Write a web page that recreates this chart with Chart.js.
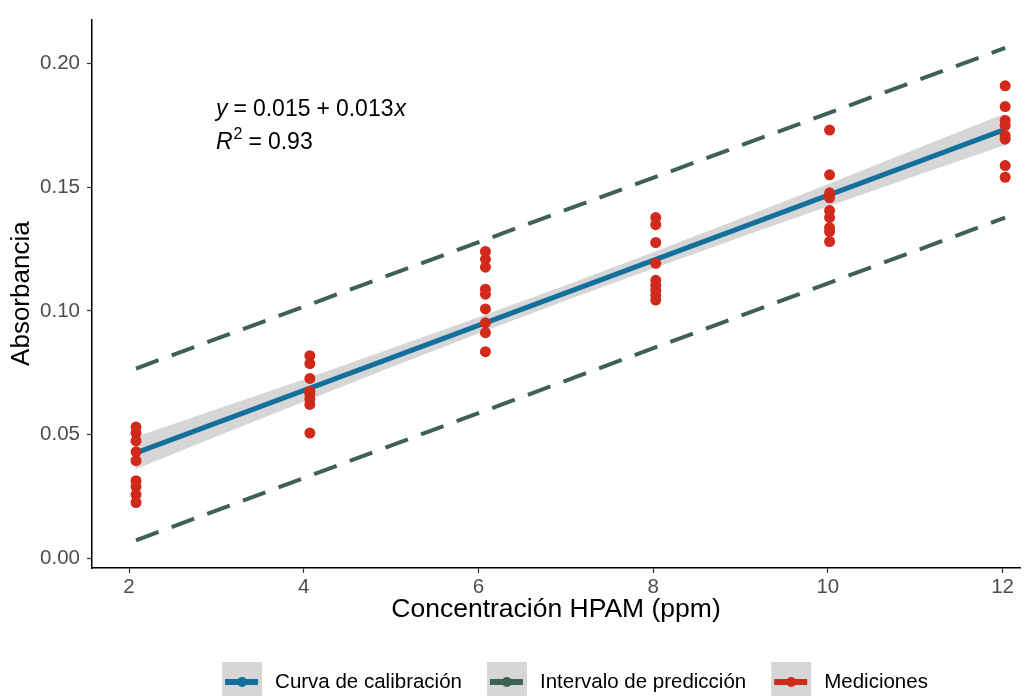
<!DOCTYPE html>
<html>
<head>
<meta charset="utf-8">
<script src="https://cdn.jsdelivr.net/npm/chart.js@4.4.1/dist/chart.umd.min.js"></script>
<style>
body { margin: 0; background: #fff; }
#wrap { width: 1034px; height: 696px; }
</style>
</head>
<body>
<div id="wrap"><canvas id="chart" width="1034" height="696"></canvas></div>
<script>
// ticks
const xTicks = [2, 4, 6, 8, 10, 12];
const yTicks = [0, 0.05, 0.10, 0.15, 0.20];

// mediciones (absorbancia) por concentración
const concX = [2.08, 4.07, 6.08, 8.03, 10.02, 12.03];
const med2 = [0.0530, 0.0506, 0.0474, 0.0430, 0.0394, 0.0313, 0.0289, 0.0257, 0.0225];
const med4 = [0.0819, 0.0787, 0.0727, 0.0675, 0.0663, 0.0643, 0.0622, 0.0506];
const med6 = [0.1241, 0.1209, 0.1177, 0.1088, 0.1068, 0.1008, 0.0952, 0.0912, 0.0835];
const med8 = [0.1378, 0.1349, 0.1277, 0.1193, 0.1124, 0.1104, 0.1084, 0.1064, 0.1044];
const med10 = [0.1732, 0.1551, 0.1478, 0.1458, 0.1406, 0.1378, 0.1337, 0.1321, 0.1281];
const med12 = [0.1911, 0.1827, 0.1771, 0.1750, 0.1709, 0.1695, 0.1588, 0.1541];

// curva de calibración y banda de confianza
const fitX = [2.08, 12.03];
const fitY = [0.0426, 0.1735];
const bandX = [2.08, 3, 4, 5, 6, 7, 8, 9, 10, 11, 12.03];
const bandLow = [0.0361, 0.0492, 0.0633, 0.0772, 0.0909, 0.1042, 0.1172, 0.1298, 0.1423, 0.1546, 0.1671];
const bandHigh = [0.0491, 0.0602, 0.0723, 0.0848, 0.0975, 0.1104, 0.1238, 0.1374, 0.1513, 0.1654, 0.1799];

// intervalo de predicción
const predX = [2.08, 12.03];
const predUpper = [0.0767, 0.2064];
const predLower = [0.0072, 0.1378];

const BLUE = '#136f9b';
const GREEN = '#3f6152';
const RED = '#cf2a1b';
const BANDFILL = 'rgba(153,153,153,0.4)';
const FONT = "'Liberation Sans', Arial, sans-serif";

function xy(xs, ys) {
    return xs.map((x, i) => ({ x: x, y: ys[i] }));
}

// todos los puntos de mediciones
const groups = [med2, med4, med6, med8, med10, med12];
const medPoints = [];
groups.forEach((g, i) => {
    g.forEach(v => medPoints.push({ x: concX[i], y: v }));
});

// leyenda dibujada a mano (cajas grises estilo ggplot)
const legendPlugin = {
    id: 'customLegend',
    afterDraw(chart) {
        const ctx = chart.ctx;
        const items = chart.data.datasets.filter(d => d.label);
        const box = 40, gapText = 13, gapItem = 25, cy = 682;
        ctx.save();
        ctx.font = '20.5px ' + FONT;
        let total = 0;
        items.forEach((d, i) => {
            total += box + gapText + ctx.measureText(d.label).width;
            if (i < items.length - 1) total += gapItem;
        });
        let x = 575 - total / 2;
        items.forEach(d => {
            const col = d.keyColor;
            ctx.fillStyle = BANDFILL;
            ctx.fillRect(x, cy - box / 2, box, box);
            ctx.strokeStyle = col;
            ctx.lineWidth = 6;
            ctx.beginPath();
            ctx.moveTo(x + 3, cy);
            ctx.lineTo(x + box - 4, cy);
            ctx.stroke();
            ctx.fillStyle = col;
            ctx.beginPath();
            ctx.arc(x + box / 2, cy, 5, 0, Math.PI * 2);
            ctx.fill();
            ctx.fillStyle = '#000';
            ctx.textBaseline = 'middle';
            ctx.textAlign = 'left';
            ctx.fillText(d.label, x + box + gapText, cy);
            x += box + gapText + ctx.measureText(d.label).width + gapItem;
        });
        ctx.restore();
    }
};

// ecuación y R2
const eqPlugin = {
    id: 'equation',
    afterDraw(chart) {
        const ctx = chart.ctx;
        ctx.save();
        ctx.fillStyle = '#000';
        ctx.textBaseline = 'alphabetic';
        ctx.textAlign = 'left';
        const reg = '23px ' + FONT;
        const ita = 'italic 23px ' + FONT;
        function draw(parts, x, y) {
            parts.forEach(p => {
                ctx.font = p[1];
                ctx.fillText(p[0], x, y + (p[2] || 0));
                x += ctx.measureText(p[0]).width + (p[3] || 0);
            });
        }
        draw([['y', ita, 0, 6], ['=', reg, 0, 6], ['0.015', reg, 0, 6], ['+', reg, 0, 6], ['0.013', reg, 0, 1], ['x', ita]], 216, 116);
        draw([['R', ita, 0, 1], ['2', '16px ' + FONT, -10, 6], ['=', reg, 0, 6], ['0.93', reg]], 216, 149);
        ctx.restore();
    }
};

const ctx = document.getElementById('chart').getContext('2d');
new Chart(ctx, {
    type: 'scatter',
    data: {
        datasets: [
            {
                label: 'Curva de calibración',
                keyColor: BLUE,
                type: 'line',
                data: xy(fitX, fitY),
                borderColor: BLUE,
                borderWidth: 5,
                pointRadius: 0,
                fill: false,
                order: 1
            },
            {
                label: 'Intervalo de predicción',
                keyColor: GREEN,
                type: 'line',
                data: xy(predX, predUpper),
                borderColor: GREEN,
                borderWidth: 4,
                borderDash: [24, 14],
                pointRadius: 0,
                fill: false,
                order: 2
            },
            {
                label: 'Mediciones',
                keyColor: RED,
                data: medPoints,
                backgroundColor: RED,
                borderColor: RED,
                pointRadius: 5.5,
                borderWidth: 0,
                order: 0
            },
            {
                label: '',
                type: 'line',
                data: xy(predX, predLower),
                borderColor: GREEN,
                borderWidth: 4,
                borderDash: [24, 14],
                pointRadius: 0,
                fill: false,
                order: 2
            },
            {
                label: '',
                type: 'line',
                data: xy(bandX, bandLow),
                borderWidth: 0,
                borderColor: 'rgba(0,0,0,0)',
                pointRadius: 0,
                fill: false,
                order: 3
            },
            {
                label: '',
                type: 'line',
                data: xy(bandX, bandHigh),
                borderWidth: 0,
                borderColor: 'rgba(0,0,0,0)',
                backgroundColor: BANDFILL,
                pointRadius: 0,
                fill: '-1',
                order: 3
            }
        ]
    },
    options: {
        responsive: false,
        animation: false,
        layout: { padding: { top: 15, right: 14, bottom: 36, left: 0 } },
        plugins: {
            legend: { display: false },
            tooltip: { enabled: false }
        },
        scales: {
            x: {
                type: 'linear',
                min: 1.576,
                max: 12.2,
                afterBuildTicks: s => { s.ticks = xTicks.map(v => ({ value: v })); },
                afterFit: s => { s.height = 92; },
                border: { display: true, color: '#000', width: 1.5 },
                grid: { drawOnChartArea: false, drawTicks: true, tickLength: 5, tickColor: '#333', tickWidth: 1.2 },
                ticks: { color: '#4d4d4d', font: { family: FONT, size: 20.5 }, padding: 2, maxRotation: 0 },
                title: { display: true, text: 'Concentración HPAM (ppm)', color: '#000', font: { family: FONT, size: 26.5 }, padding: { top: 0, bottom: 34 } }
            },
            y: {
                min: -0.004,
                max: 0.218,
                afterBuildTicks: s => { s.ticks = yTicks.map(v => ({ value: v })); },
                afterFit: s => { s.width = 92; },
                border: { display: true, color: '#000', width: 1.5 },
                grid: { drawOnChartArea: false, drawTicks: true, tickLength: 5, tickColor: '#333', tickWidth: 1.2 },
                ticks: { color: '#4d4d4d', font: { family: FONT, size: 20.5 }, padding: 7, callback: v => v.toFixed(2) },
                title: { display: true, text: 'Absorbancia', color: '#000', font: { family: FONT, size: 26 }, padding: { top: 6, bottom: 0 } }
            }
        }
    },
    plugins: [legendPlugin, eqPlugin]
});
</script>
</body>
</html>
